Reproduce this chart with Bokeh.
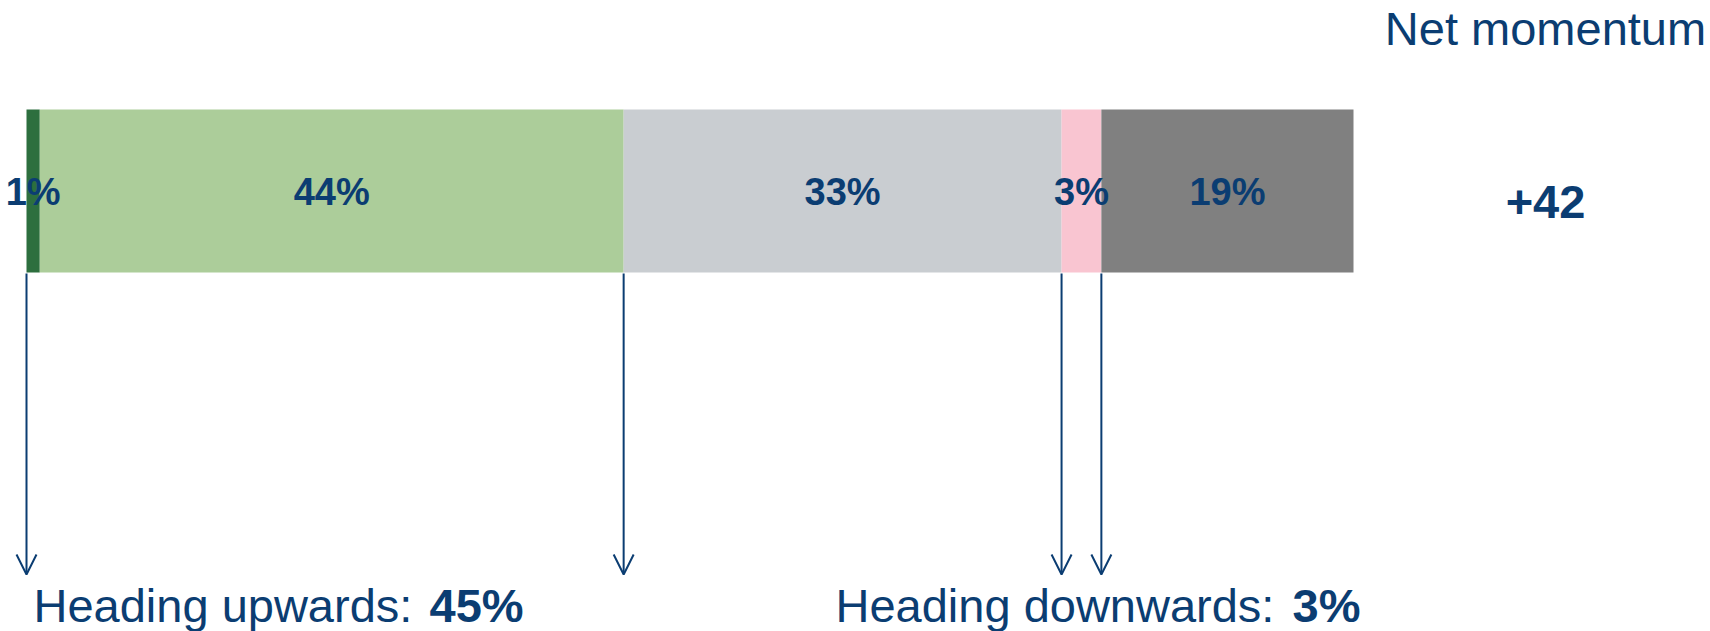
from bokeh.plotting import figure
from bokeh.models import Range1d, ColumnDataSource, Arrow, OpenHead
from bokeh.core.properties import value
from bokeh.embed import file_html
from bokeh.resources import INLINE

# ---- data ----
categories = ["Strongly upwards", "Upwards", "No change", "Downwards", "Strongly downwards"]
shares = [1, 44, 33, 3, 19]
seg_labels = ["1%", "44%", "33%", "3%", "19%"]
colors = ["#2d6f3e", "#accd9a", "#c9cdd1", "#f9c5d1", "#808080"]
up_idx = [0, 1]
down_idx = [3]

TXT = "#0b3d72"
FONT = "Liberation Sans"
W, H = 1710, 631

# layout (pixels)
bar_left_px, bar_right_px = 26, 1353
bar_top_px, bar_bot_px = 109, 272
arrow_tip_px = 574

ppu = (bar_right_px - bar_left_px) / 100.0
x0 = -bar_left_px / ppu
x_range = Range1d(x0, x0 + W / ppu)
# y in pixels from top (reversed range)
y_range = Range1d(H, 0)


def px_x(px):
    return x0 + px / ppu


p = figure(width=W, height=H, x_range=x_range, y_range=y_range,
           output_backend="svg", toolbar_location=None, min_border=0)
p.axis.visible = False
p.grid.visible = False
p.outline_line_color = None
p.background_fill_color = "white"
p.border_fill_color = "white"

lefts, rights = [], []
acc = 0
for v in shares:
    lefts.append(acc)
    acc += v
    rights.append(acc)
mids = [(l + r) / 2 for l, r in zip(lefts, rights)]
ymid = (bar_top_px + bar_bot_px) / 2

src = ColumnDataSource(dict(cat=categories, left=lefts, right=rights, mid=mids,
                            y=[ymid] * len(shares), lab=seg_labels, color=colors))
p.hbar(y="y", left="left", right="right", height=bar_bot_px - bar_top_px,
       fill_color="color", line_color=None, source=src)
p.text(x="mid", y="y", text="lab", source=src, text_align="center",
       text_baseline="middle", text_color=TXT, text_font=value(FONT),
       text_font_style="bold", text_font_size="38px", y_offset=1)

# arrows at the edges of the up and down groups
up_start, up_end = lefts[up_idx[0]], rights[up_idx[-1]]
dn_start, dn_end = lefts[down_idx[0]], rights[down_idx[-1]]
arrow_x = [up_start, up_end, dn_start, dn_end]
asrc = ColumnDataSource(dict(x0=arrow_x, x1=arrow_x,
                             y0=[bar_bot_px + 1] * 4, y1=[arrow_tip_px] * 4))
p.add_layout(Arrow(end=OpenHead(size=20, line_color=TXT, line_width=2),
                   x_start="x0", y_start="y0", x_end="x1", y_end="y1",
                   line_color=TXT, line_width=2, source=asrc))

up_total = sum(shares[i] for i in up_idx)
down_total = sum(shares[i] for i in down_idx)
net = up_total - down_total


def lab(x, ycap, text, size, bold=False, align="left"):
    # ycap: vertical centre of the capital letters, pixels from top
    p.text(x=[px_x(x)], y=[ycap], text=[text], text_color=TXT, text_font=value(FONT),
           text_font_size=size, text_font_style="bold" if bold else "normal",
           text_align=align, text_baseline="middle")


lab(1545, 28, "Net momentum", "47px", align="center")
lab(1545, 201, f"{net:+d}", "47px", bold=True, align="center")
lab(33, 605, "Heading upwards:", "47px")
lab(429, 605, f"{up_total}%", "47px", bold=True)
lab(835, 605, "Heading downwards:", "47px")
lab(1292, 605, f"{down_total}%", "47px", bold=True)

open("out.html", "w").write(file_html(p, INLINE))
